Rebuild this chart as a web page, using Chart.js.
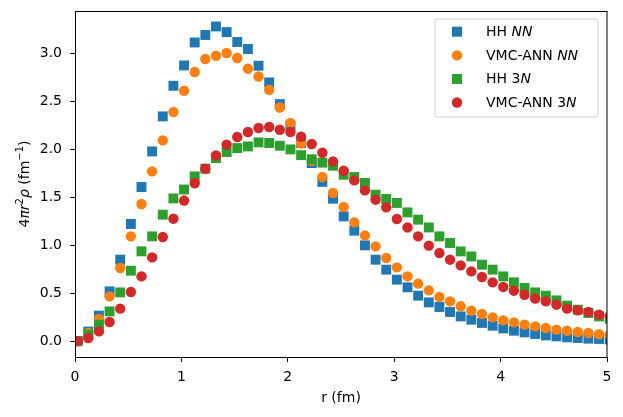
<!DOCTYPE html>
<html>
<head>
<meta charset="utf-8">
<script src="https://cdn.jsdelivr.net/npm/chart.js@4.4.1/dist/chart.umd.min.js"></script>
<style>
html,body{margin:0;padding:0;background:#fff;}
#wrap{width:623px;height:417px;position:relative;}
</style>
</head>
<body>
<div id="wrap"><canvas id="c" width="623" height="417"></canvas></div>
<script>
// radial grid (fm)
const rValues = [0.025,0.125,0.225,0.325,0.425,0.525,0.625,0.725,0.825,0.925,
  1.025,1.125,1.225,1.325,1.425,1.525,1.625,1.725,1.825,1.925,
  2.025,2.125,2.225,2.325,2.425,2.525,2.625,2.725,2.825,2.925,
  3.025,3.125,3.225,3.325,3.425,3.525,3.625,3.725,3.825,3.925,
  4.025,4.125,4.225,4.325,4.425,4.525,4.625,4.725,4.825,4.925,5.025];

const hhNN = [0.0,0.10,0.266,0.519,0.849,1.221,1.606,1.977,2.342,2.661,
  2.873,3.112,3.19,3.279,3.22,3.117,3.044,2.87,2.696,2.47,
  2.245,2.065,1.856,1.66,1.484,1.30,1.151,0.998,0.849,0.745,
  0.641,0.561,0.474,0.404,0.356,0.304,0.258,0.224,0.19,0.161,
  0.133,0.109,0.092,0.075,0.06,0.05,0.04,0.033,0.026,0.023,0.018];

const vmcNN = [0.0,0.085,0.231,0.467,0.762,1.092,1.429,1.769,2.092,2.387,
  2.609,2.804,2.94,2.974,3.002,2.95,2.839,2.758,2.62,2.435,
  2.273,2.06,1.88,1.71,1.544,1.398,1.238,1.102,0.988,0.866,
  0.769,0.675,0.599,0.529,0.46,0.415,0.363,0.318,0.283,0.248,
  0.217,0.196,0.172,0.154,0.137,0.12,0.109,0.096,0.085,0.072,0.065];

const hh3N = [0.0,0.068,0.172,0.31,0.508,0.734,0.936,1.092,1.318,1.487,
  1.58,1.717,1.797,1.908,1.971,2.012,2.029,2.071,2.065,2.036,
  1.998,1.938,1.895,1.86,1.828,1.734,1.71,1.648,1.526,1.481,
  1.44,1.342,1.266,1.185,1.092,1.023,0.935,0.883,0.797,0.745,
  0.675,0.613,0.554,0.508,0.474,0.425,0.37,0.328,0.294,0.258,0.234];

const vmc3N = [0.0,0.033,0.102,0.2,0.339,0.512,0.675,0.873,1.085,1.276,
  1.465,1.645,1.797,1.935,2.047,2.127,2.179,2.221,2.231,2.203,
  2.179,2.13,2.054,1.963,1.873,1.776,1.675,1.571,1.474,1.394,
  1.273,1.185,1.092,0.995,0.918,0.849,0.79,0.727,0.669,0.613,
  0.565,0.526,0.484,0.443,0.415,0.38,0.339,0.321,0.304,0.276,0.26];

const xTicks = [0,1,2,3,4,5];
const yTicks = [0.0,0.5,1.0,1.5,2.0,2.5,3.0];

// legend labels: [text, italic]
const legendLabels = [
  [["HH ",false],["NN",true]],
  [["VMC-ANN ",false],["NN",true]],
  [["HH 3",false],["N",true]],
  [["VMC-ANN 3",false],["N",true]]
];
const xTitle = "r (fm)";
// y title segments: [text, italic, superscript]
const yTitle = [["4",false,false],["πr",true,false],["2",false,true],["ρ",true,false],[" (fm",false,false],["−1",false,true],[")",false,false]];

const colors = ['#1f77b4','#ff7f0e','#2ca02c','#d62728'];
const styles = ['rect','circle','rect','circle'];
const seriesList = [hhNN, vmcNN, hh3N, vmc3N];

const FONT = "'DejaVu Sans', sans-serif";
Chart.defaults.font.family = FONT;
Chart.defaults.font.size = 14;
Chart.defaults.color = '#000';

function mk(vals){ return rValues.map((r,i)=>({x:r,y:vals[i]})); }

const datasets = seriesList.map((s,k)=>({
  data: mk(s),
  backgroundColor: colors[k],
  borderColor: colors[k],
  borderWidth: 0,
  pointStyle: styles[k],
  pointRadius: styles[k]==='rect' ? 7.0 : 5.2,
  pointHoverRadius: styles[k]==='rect' ? 7.0 : 5.2,
  showLine: false,
  clip: 0,
  order: 4-k
}));

const framePlugin = {
  id: 'frame',
  afterDatasetsDraw(chart){
    const {ctx, chartArea:a} = chart;
    ctx.save();
    ctx.strokeStyle = '#000';
    ctx.lineWidth = 1;
    ctx.strokeRect(Math.round(a.left)+0.5, Math.round(a.top)+0.5, Math.round(a.right-a.left)-1+0.5, Math.round(a.bottom-a.top));
    ctx.restore();
  },
  afterDraw(chart){
    const ctx = chart.ctx;
    const a = chart.chartArea;
    // legend
    ctx.save();
    const bx = 435, by = 19, bw = 163, bh = 98, rad = 3;
    ctx.beginPath();
    ctx.moveTo(bx+rad,by);
    ctx.arcTo(bx+bw,by,bx+bw,by+bh,rad);
    ctx.arcTo(bx+bw,by+bh,bx,by+bh,rad);
    ctx.arcTo(bx,by+bh,bx,by,rad);
    ctx.arcTo(bx,by,bx+bw,by,rad);
    ctx.closePath();
    ctx.fillStyle = 'rgba(255,255,255,0.8)';
    ctx.fill();
    ctx.strokeStyle = '#d0d0d0';
    ctx.lineWidth = 1;
    ctx.stroke();
    const rows = [31.7, 55.4, 79, 102.5];
    legendLabels.forEach((segs,k)=>{
      const y = rows[k];
      ctx.fillStyle = colors[k];
      ctx.beginPath();
      if (styles[k]==='rect'){ const s=5; ctx.rect(457-s,y-s,2*s,2*s);} else { ctx.arc(457,y,5.2,0,Math.PI*2);} 
      ctx.fill();
      let x = 486;
      ctx.fillStyle = '#000';
      ctx.textBaseline = 'middle';
      ctx.textAlign = 'left';
      segs.forEach(([t,it])=>{
        ctx.font = (it?'italic ':'') + '14px ' + FONT;
        ctx.fillText(t, x, y+0.5);
        x += ctx.measureText(t).width;
      });
    });
    ctx.restore();
    // y title
    ctx.save();
    const cy = (a.top+a.bottom)/2;
    ctx.translate(24, cy);
    ctx.rotate(-Math.PI/2);
    let total = 0;
    const fonts = yTitle.map(([t,it,sup])=>(it?'italic ':'') + (sup? '10px ':'14px ') + FONT);
    yTitle.forEach(([t],i)=>{ ctx.font = fonts[i]; total += ctx.measureText(t).width; });
    let x = -total/2;
    ctx.fillStyle = '#000';
    ctx.textBaseline = 'alphabetic';
    ctx.textAlign = 'left';
    yTitle.forEach(([t,it,sup],i)=>{
      ctx.font = fonts[i];
      ctx.fillText(t, x, sup ? -1 : 5);
      x += ctx.measureText(t).width;
    });
    ctx.restore();
  }
};

new Chart(document.getElementById('c'), {
  type: 'scatter',
  data: { datasets },
  options: {
    responsive: false,
    animation: false,
    devicePixelRatio: 1,
    layout: { padding: { top: 11, right: 16, bottom: 0, left: 0 } },
    plugins: { legend: { display: false }, tooltip: { enabled: false } },
    scales: {
      x: {
        type: 'linear', min: 0, max: 5,
        afterFit: s => { s.height = 60; s.paddingLeft = 0; s.paddingRight = 0; },
        afterBuildTicks: s => { s.ticks = xTicks.map(v=>({value:v})); },
        ticks: { callback: v => String(v), padding: 7, maxRotation: 0, autoSkip: false, font: {size: 14} },
        grid: { display: true, drawOnChartArea: false, drawTicks: true, tickLength: 5, color: '#000', lineWidth: 1 },
        border: { display: true, color: '#000', width: 1 },
        title: { display: true, text: xTitle, font: {size: 14}, padding: {top: 0, bottom: 10} }
      },
      y: {
        type: 'linear', min: -0.165, max: 3.44,
        afterFit: s => { s.width = 75; s.paddingTop = 0; s.paddingBottom = 0; },
        afterBuildTicks: s => { s.ticks = yTicks.map(v=>({value:v})); },
        ticks: { callback: v => Number(v).toFixed(1), padding: 8, autoSkip: false, font: {size: 14} },
        grid: { display: true, drawOnChartArea: false, drawTicks: true, tickLength: 5, color: '#000', lineWidth: 1 },
        border: { display: true, color: '#000', width: 1 },
        title: { display: false }
      }
    }
  },
  plugins: [framePlugin]
});
</script>
</body>
</html>
